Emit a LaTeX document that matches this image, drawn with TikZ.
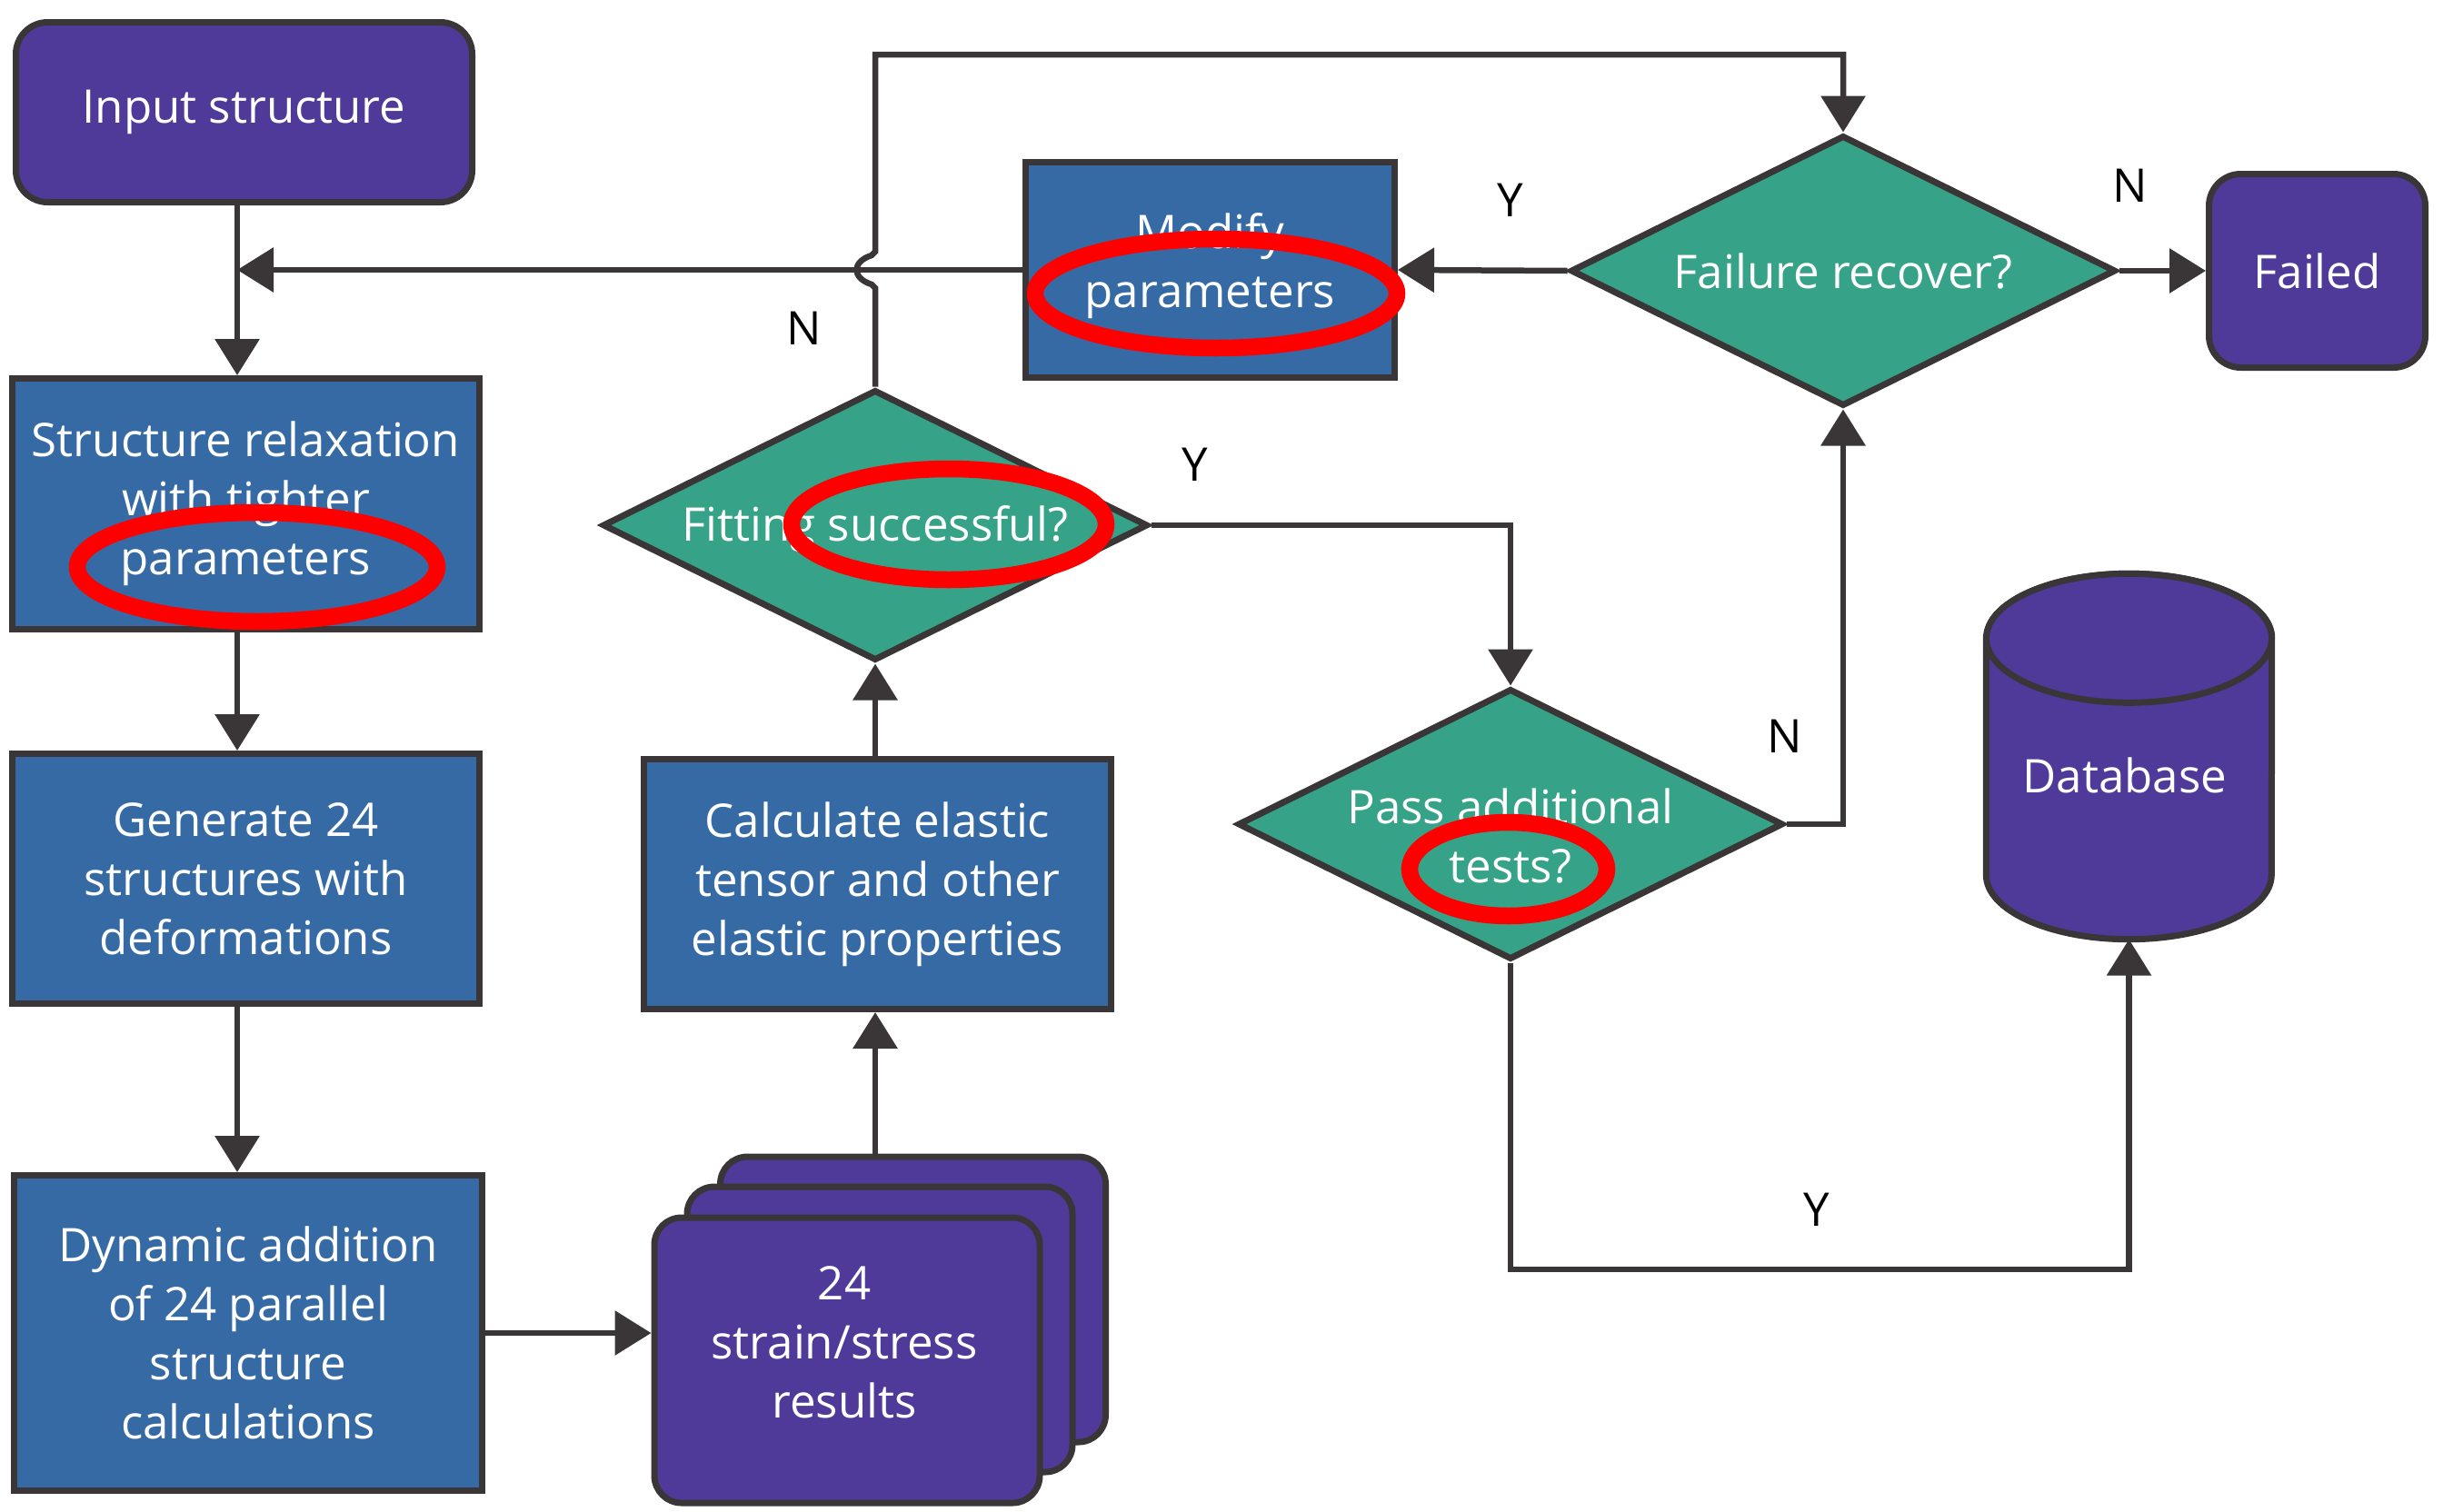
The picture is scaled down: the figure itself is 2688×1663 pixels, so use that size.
\documentclass[tikz,border=0pt]{standalone}
\usepackage{fontspec}
\setmainfont{Open Sans}
\usetikzlibrary{shapes.geometric,arrows.meta,calc}
\definecolor{cblue}{RGB}{54,106,165}
\definecolor{cpurp}{RGB}{79,58,153}
\definecolor{cgreen}{RGB}{54,162,135}
\definecolor{cline}{RGB}{58,54,55}
\begin{document}
\begin{tikzpicture}[x=1pt,y=-1pt,
  font=\fontsize{51}{65}\selectfont,
  base/.style={draw=cline, line width=7pt, text=white, align=center, inner sep=0pt},
  bluebox/.style={base, fill=cblue, rectangle},
  purpbox/.style={base, fill=cpurp, rectangle, rounded corners=35pt},
  docbox/.style={base, fill=cpurp, rectangle, rounded corners=30pt, minimum width=424pt, minimum height=314pt},
  decision/.style={base, fill=cgreen, diamond, aspect=2, minimum width=600pt, minimum height=298pt},
  conn/.style={draw=cline, line width=6.5pt, -{Triangle[length=40pt,width=48pt]}},
  intext/.style={text=white, align=center, inner sep=0pt},
  lab/.style={text=black},
  redring/.style={draw=red, line width=18.5pt},
  cyl/.style={draw=cline, line width=7pt, fill=cpurp},
]
\useasboundingbox (0,0) rectangle (2688,1663);

% columns / helper coordinates
\coordinate (colA) at (261,0);
\coordinate (top) at (0,60);
\coordinate (bot) at (0,1397);

% nodes
\node[purpbox, minimum width=502pt, minimum height=198pt] (inp) at (268.5,123.5) {Input structure};
\node[bluebox, minimum width=514pt, minimum height=276pt] (relax) at (270.5,554.5) {Structure relaxation\\with tighter\\parameters};
\node[bluebox, minimum width=514pt, minimum height=275pt] (gen) at (270.5,967) {Generate 24\\structures with\\deformations};
\node[bluebox, minimum width=515pt, minimum height=347pt] (dyn) at (273,1467) {Dynamic addition\\of 24 parallel\\structure\\calculations};
\node[docbox] (docA) at (1004.5,1430) {};
\node[docbox] (docB) at (968,1463) {};
\node[docbox] (docC) at (932,1497) {};
\node[intext] (docCtext) at (929,1477) {24\\strain/stress\\results};
\node[bluebox, minimum width=514pt, minimum height=275pt] (calc) at (965.5,973) {Calculate elastic\\tensor and other\\elastic properties};
\node[decision] (fit) at (963,578) {};
\node[intext] (fittext) at (963,582) {Fitting successful?};
\node[bluebox, minimum width=406pt, minimum height=237pt] (modify) at (1331.5,297) {};
\node[intext] (modtext) at (1331.5,293) {Modify\\parameters};
\node[decision] (fail) at (2028,298) {Failure recover?};
\node[purpbox, minimum width=238pt, minimum height=213pt] (failed) at (2549.5,298) {Failed};
\node[decision] (pass) at (1662,907) {};
\node[intext] (passtext) at (1662,920) {Pass additional\\tests?};

% database cylinder
\node[minimum width=314pt, minimum height=402pt, inner sep=0pt] (db) at (2342.5,832.5) {};
\path[cyl] ($(db.north west)+(0,71)$) -- ($(db.south west)+(0,-71)$)
  arc[start angle=180, end angle=360, x radius=157pt, y radius=71pt]
  -- ($(db.north east)+(0,71)$)
  arc[start angle=0, end angle=180, x radius=157pt, y radius=71pt] -- cycle;
\draw[cyl] ($(db.north)+(0,71)$) ellipse [x radius=157pt, y radius=71pt];
\node[text=white] (dbtext) at (2338,853) {Database};

% connectors
\draw[conn] (inp.south -| colA) -- (relax.north -| colA);
\draw[conn] (relax.south -| colA) -- (gen.north -| colA);
\draw[conn] (gen.south -| colA) -- (dyn.north -| colA);
\draw[conn] (dyn.east) -- (dyn.east -| docC.west);
\draw[conn] (docA.north -| fit.south) -- (calc.south -| fit.south);
\draw[conn] (calc.north -| fit.south) -- (fit.south);
\draw[conn] (fit.east) -| (pass.north);
\draw[conn] (modify.west) -- (modify.west -| colA);
\coordinate (J) at (fit.north |- modify.west);
\draw[conn] (fit.north) -- ($(J)+(0,20)$) -- ($(J)+(-4,16)$)
  .. controls ($(J)+(-26,9)$) and ($(J)+(-26,-9)$) .. ($(J)+(-4,-16)$)
  -- ($(J)+(0,-20)$) -- (J |- top) -| (fail.north);
\draw[conn] (fail.west) -- (modify.east);
\draw[conn] (fail.east) -- (failed.west);
\draw[conn] (pass.east) -| (fail.south);
\draw[conn] (pass.south) -- (pass.south |- bot) -| (db.south);

% branch labels
\node[lab] (nfit) at (885,361) {N};
\node[lab] (yfit) at (1315,511) {Y};
\node[lab] (yfail) at (1662,220) {Y};
\node[lab] (nfail) at (2344,204) {N};
\node[lab] (npass) at (1964,810) {N};
\node[lab] (ypass) at (1999,1331) {Y};

% red annotation rings
\draw[redring] (283,624) ellipse [x radius=198pt, y radius=60pt];
\draw[redring] (1338,323) ellipse [x radius=199pt, y radius=60pt];
\draw[redring] (1044,577) ellipse [x radius=173pt, y radius=61pt];
\draw[redring] (1659.5,956.5) ellipse [x radius=108.5pt, y radius=51.5pt];
\end{tikzpicture}
\end{document}
